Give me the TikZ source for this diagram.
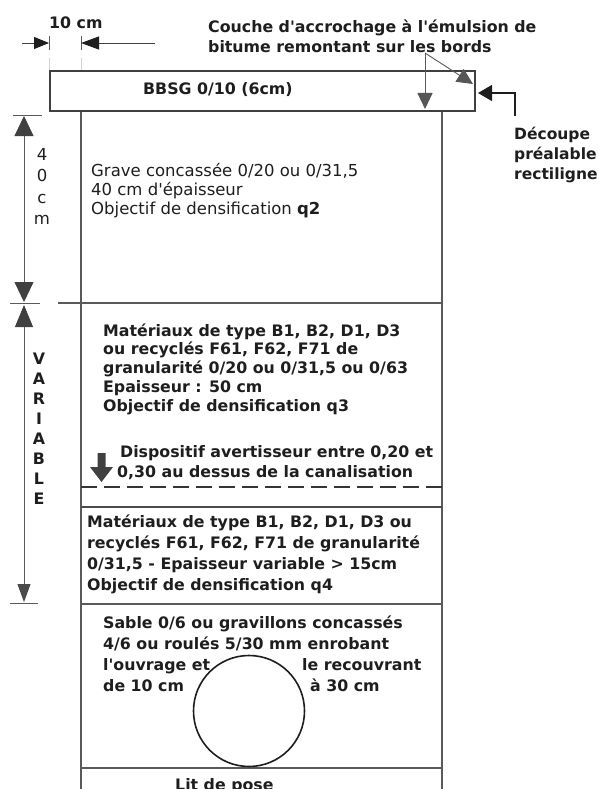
\documentclass[tikz,border=0pt]{standalone}
\usepackage{fontspec}
\setmainfont{DejaVu Sans}
\usepackage{xcolor}
\usetikzlibrary{arrows.meta}

\definecolor{ink}{HTML}{1E1E1E}
\definecolor{trait}{HTML}{5A5A5A}

\begin{document}
\begin{tikzpicture}[x=1pt, y=-1pt,
    couche/.style = {draw=trait, line width=1.2pt},
    cote/.style = {draw=trait, line width=0.9pt},
    grosse/.tip = {Triangle[length=20pt, width=19pt, color=ink!85]},
    moyenne/.tip = {Triangle[length=16pt, width=15pt, color=ink!75]},
    fine/.tip = {Triangle[length=15pt, width=12pt, color=ink]},
    texte/.style = {anchor=base west, align=left, inner sep=0pt, text=ink,
        font=\fontsize{15.8}{18.75}\selectfont\bfseries},
    lettres/.style = {anchor=base, align=center, inner sep=0pt, text=ink}]

    \useasboundingbox (0, 0) rectangle (598, 789);

    % tranchee
    \draw[couche] (81, 111) -- (81, 789);
    \draw[couche] (442, 111) -- (442, 789);
    \draw[couche] (58, 303) -- (442, 303);
    \draw[draw=ink!90, line width=2.6pt, dash pattern=on 16pt off 7pt] (81, 487) -- (442, 487);
    \draw[draw=ink!80, line width=2.2pt] (81, 507) -- (442, 507);
    \draw[couche] (81, 604) -- (442, 604);
    \draw[couche] (81, 768) -- (442, 768);

    % enrobe
    \draw[draw=ink!85, line width=2.5pt, fill=white] (50, 71) rectangle (475, 111);
    \draw[draw=ink!85, line width=1.5pt] (50.5, 72) -- (50.5, 111.5) -- (475, 111.5);
    \node[texte] (bbsg) at (143, 95) {BBSG 0/10 (6cm)};

    % cote 10 cm
    \draw[cote] (49, 36) -- (49, 50);
    \draw[cote] (81, 36) -- (81, 50);
    \draw[gray!35, line width=0.8pt] (49, 58) -- (49, 70);
    \draw[gray!35, line width=0.8pt] (81, 58) -- (81, 70);
    \coordinate (bordg) at (49, 43);
    \coordinate (bordd) at (81, 43);
    \draw[cote, draw=ink!85, -fine] (22, 43) -- (bordg);
    \draw[cote, draw=ink!85, -{Triangle[length=18pt, width=13pt, color=ink]}] (155, 43) -- (bordd);
    \node[texte] (dix) at (49, 29) {10 cm};

    % cotes verticales
    \draw[cote] (13, 115) -- (42, 115);
    \draw[cote] (10, 303) -- (40, 303);
    \draw[cote] (10, 603) -- (38, 603);
    \draw[cote, grosse-grosse] (24, 116) -- (24, 302);
    \draw[cote, {Triangle[length=22pt, width=18pt, color=ink!85]}-{Triangle[length=18pt, width=13pt, color=ink!80]}] (24, 305) -- (24, 602);
    % (ancre base = derniere ligne)
    \node[lettres, font=\fontsize{16.5}{21.5}\selectfont] (quarante) at (42, 224.5) {4\\0\\c\\m};
    \node[lettres, font=\fontsize{15.8}{20}\selectfont\bfseries] (variable) at (39, 504) {V\\A\\R\\I\\A\\B\\L\\E};

    % couche d'accrochage
    \node[texte, font=\fontsize{15.8}{19.5}\selectfont\bfseries] (accroche) at (208, 52.5)
        {Couche d\textquotesingle accrochage à l\textquotesingle émulsion de\\bitume remontant sur les bords};
    \coordinate (acc) at (425, 53);
    \draw[cote, -moyenne] (acc) -- (425, 109);
    \draw[cote, -moyenne] (acc) -- (473, 84);

    % decoupe
    \node[texte, font=\fontsize{15.5}{20}\selectfont\bfseries] (decoupe) at (514, 179)
        {Découpe\\préalable\\rectiligne};
    \coordinate (coin) at (515, 93);
    \draw[draw=ink, line width=1.3pt, -{Triangle[length=14pt, width=16pt]}] (515, 116) -- (coin) -- (478, 93);

    % couches
    \node[texte, font=\fontsize{16.5}{19}\selectfont] (grave) at (91, 214)
        {Grave concassée 0/20 ou 0/31,5\\40 cm d\textquotesingle épaisseur\\Objectif de densification \textbf{q2}};
    \node[texte] (mat1) at (103, 411)
        {Matériaux de type B1, B2, D1, D3\\ou recyclés F61, F62, F71 de\\granularité 0/20 ou 0/31,5 ou 0/63\\Epaisseur : 50 cm\\Objectif de densification q3};
    \fill[ink!85] (97.5, 453) -- (105.5, 453) -- (105.5, 467) -- (113, 467) -- (101.5, 482)
        -- (90, 467) -- (97.5, 467) -- cycle;
    \node[texte, font=\fontsize{15.8}{20}\selectfont\bfseries] (avert) at (120, 477)
        {Dispositif avertisseur entre 0,20 et\\\hspace*{-3pt}0,30 au dessus de la canalisation};
    \node[texte, font=\fontsize{15.8}{20.7}\selectfont\bfseries] (mat2) at (87, 590)
        {Matériaux de type B1, B2, D1, D3 ou\\recyclés F61, F62, F71 de granularité\\0/31,5 - Epaisseur variable > 15cm\\Objectif de densification q4};
    \node[texte, font=\fontsize{15.8}{21}\selectfont\bfseries] (sable) at (103, 691)
        {Sable 0/6 ou gravillons concassés\\4/6 ou roulés 5/30 mm enrobant\\l\textquotesingle ouvrage et\\de 10 cm};
    \node[texte, font=\fontsize{15.8}{21}\selectfont\bfseries] (recouvre) at (302, 691)
        {le recouvrant\\\hspace*{8pt}à 30 cm};

    % canalisation
    \draw[draw=ink, line width=1.6pt, fill=white] (249, 711) circle (55.5);
    \node[texte] (lit) at (175, 790) {Lit de pose};
\end{tikzpicture}
\end{document}
